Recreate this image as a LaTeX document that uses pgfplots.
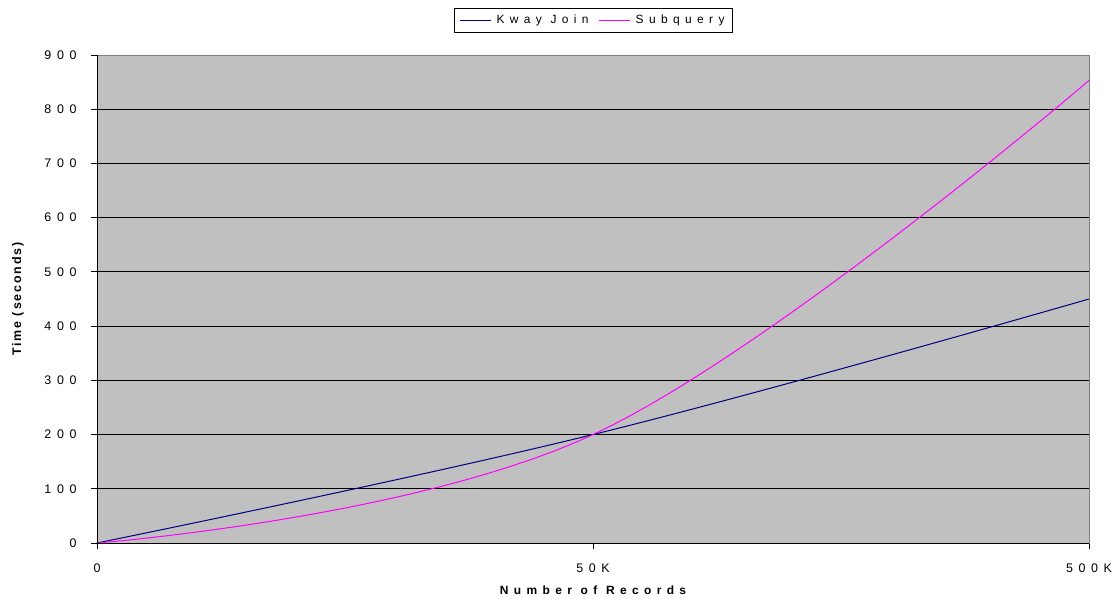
\documentclass[border=0pt]{standalone}
\usepackage{pgfplots}
\pgfplotsset{compat=1.18}
\usepackage{fontspec}
\setmainfont{Liberation Sans}
% widely tracked face used for ticks, legend and the x label
\newfontfamily\spaced[LetterSpace=45]{Liberation Sans}
\newfontfamily\lightspaced[LetterSpace=15]{Liberation Sans}

\definecolor{plotgray}{HTML}{C0C0C0}
\definecolor{framegray}{HTML}{808080}
\definecolor{kway}{HTML}{000080}
\definecolor{subq}{HTML}{FF00FF}

\begin{document}
\begin{tikzpicture}
\path[use as bounding box] (-97bp,-56bp) rectangle (1019bp,543bp);
\begin{axis}[
  at={(0,0)}, anchor=south west,
  scale only axis, width=992bp, height=488bp,
  xmin=0, xmax=2, ymin=0, ymax=900,
  xtick={0,1,2}, xticklabels={0,50K,500K},
  ytick={0,100,...,900},
  axis background/.style={fill=plotgray},
  axis line style={framegray, line width=0.9bp},
  ymajorgrids, major grid style={black, line width=0.8bp},
  tick align=outside, major tick length=6bp,
  tick style={black, line width=0.8bp},
  xtick pos=bottom, ytick pos=left,
  /pgf/number format/assume math mode=true,
  ticklabel style={font=\fontsize{12.5}{14}\spaced},
  xticklabel style={yshift=-11bp},
  yticklabel style={xshift=-11bp},
  xlabel={Number of Records},
  xlabel style={at={(axis description cs:0.5,0)}, anchor=center, yshift=-47bp,
    font=\fontsize{12}{14}\spaced\bfseries},
  ylabel={Time (seconds)},
  ylabel style={at={(axis description cs:0,0.5)}, anchor=center, yshift=79bp,
    font=\fontsize{12.5}{14}\lightspaced\bfseries},
  legend columns=2,
  legend style={at={(axis description cs:0.5,1)}, anchor=south, yshift=23bp,
    draw=black, fill=white,
    font=\fontsize{12}{14}\spaced, inner xsep=5.5bp, inner ysep=4.5bp,
    /tikz/every odd column/.append style={column sep=3bp},
    /tikz/every even column/.append style={column sep=8bp}},
  legend image code/.code={\draw[#1, line width=1.1bp] (0bp,0bp) -- (31bp,0bp);},
]
\addplot[kway, line width=1bp, smooth, tension=0.65] coordinates {(0,0) (1,200) (2,450)};
\addlegendentry{Kway Join}
\addplot[subq, line width=1bp, smooth, tension=0.65] coordinates {(0,0) (1,200) (2,853)};
\addlegendentry{Subquery}
\end{axis}
\draw[black, line width=0.9bp] (0,488bp) -- (0,0) -- (992bp,0);
\end{tikzpicture}
\end{document}
